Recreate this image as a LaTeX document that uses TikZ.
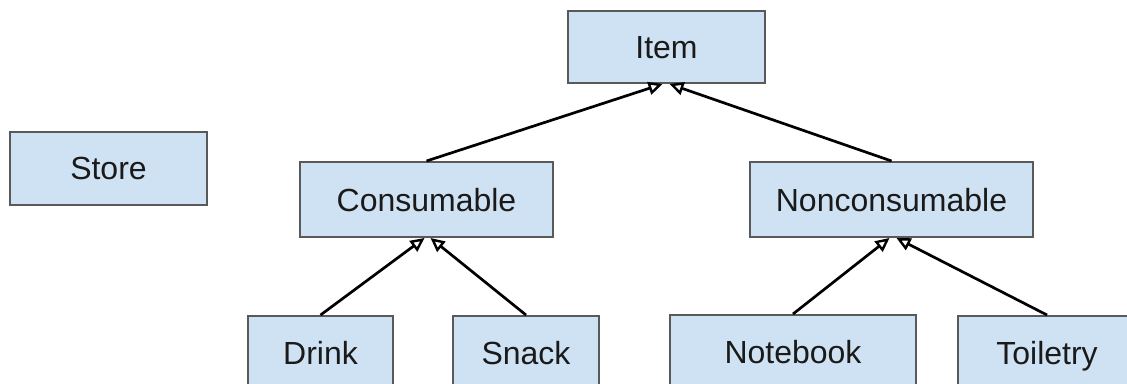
\documentclass[tikz,border=0pt]{standalone}
\usepackage{fontspec}
\setmainfont{Liberation Sans}
\usetikzlibrary{arrows.meta}
\definecolor{boxfill}{HTML}{CFE2F3}
\definecolor{boxline}{HTML}{595959}
\definecolor{txt}{HTML}{1A1A1A}
\begin{document}
\begin{tikzpicture}[x=1pt,y=-1pt,
  cls/.style={draw=boxline, fill=boxfill, line width=2pt, minimum height=73pt,
    inner sep=0pt, text height=23pt, text depth=0pt,
    font=\fontsize{32}{38}\selectfont, text=txt},
  gen/.style={line width=2.7pt, draw=black, -{Triangle[open, length=14pt, width=13pt, line width=2.4pt]}}]
\useasboundingbox (0,0) rectangle (1127,383);
\clip (0,0) rectangle (1127,383);
\fill[white] (0,0) rectangle (1127,383);
\node[cls, minimum width=197pt] (store) at (108.5,168) {Store};
\node[cls, minimum width=197pt, minimum height=72pt] (item) at (666.5,47) {Item};
\node[cls, minimum width=253pt, minimum height=75pt] (cons) at (426.5,199.5) {Consumable};
\node[cls, minimum width=283pt, minimum height=75pt] (noncons) at (891.5,199.5) {Nonconsumable};
\node[cls, minimum width=145pt, anchor=north] (drink) at (320.5,315) {Drink};
\node[cls, minimum width=146pt, anchor=north] (snack) at (526,315) {Snack};
\node[cls, minimum width=246pt, anchor=north] (notebook) at (793,314) {Notebook};
\node[cls, minimum width=178pt, anchor=north] (toiletry) at (1047,315) {Toiletry};
\draw[gen] (cons.north) -- ([xshift=-4pt]item.south);
\draw[gen] (noncons.north) -- ([xshift=3pt]item.south);
\draw[gen] (drink.north) -- ([xshift=-2pt]cons.south);
\draw[gen] (snack.north) -- ([xshift=4pt]cons.south);
\draw[gen] (notebook.north) -- ([xshift=-2pt]noncons.south);
\draw[gen] (toiletry.north) -- ([xshift=5pt]noncons.south);
\end{tikzpicture}
\end{document}
